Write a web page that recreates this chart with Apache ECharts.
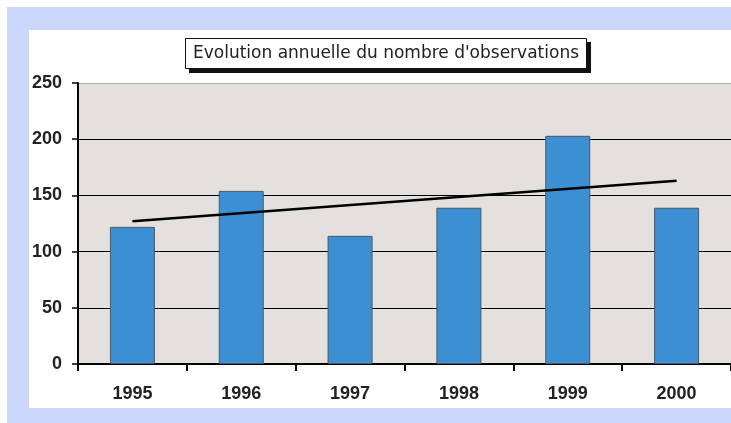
<!DOCTYPE html>
<html>
<head>
<meta charset="utf-8">
<script src="https://cdn.jsdelivr.net/npm/echarts@6/dist/echarts.min.js"></script>
<style>
  html, body { margin: 0; padding: 0; background: #fff; }
  #chart { width: 731px; height: 423px; }
</style>
</head>
<body>
<div id="chart"></div>
<script>
// data
var years = ['1995', '1996', '1997', '1998', '1999', '2000'];
var observations = [122, 154, 114, 139, 203, 139];
// trend line: only its two ends, joined straight
var trend = [127, '-', '-', '-', '-', 163];
var yTicks = [0, 50, 100, 150, 200, 250];

var chart = echarts.init(document.getElementById('chart'));

chart.setOption({
  backgroundColor: '#fff',
  animation: false,
  graphic: [
    { type: 'rect', z: -10, silent: true, shape: { x: 7, y: 7, width: 724, height: 416 }, style: { fill: '#cbd7fa' } },
    { type: 'rect', z: -9, silent: true, shape: { x: 29, y: 30, width: 702, height: 378 }, style: { fill: '#fff' } },
    // drop shadow of the title box
    { type: 'rect', z: 1, silent: true, shape: { x: 189, y: 42, width: 402, height: 31 }, style: { fill: '#111' } }
  ],
  title: {
    text: 'Evolution annuelle du nombre d\'observations',
    left: 185,
    top: 38,
    padding: [7, 8],
    backgroundColor: '#fff',
    borderColor: '#111',
    borderWidth: 1,
    textStyle: {
      fontFamily: 'DejaVu Sans',
      fontSize: 17,
      fontWeight: 'normal',
      color: '#222'
    }
  },
  grid: {
    left: 78,
    top: 83,
    bottom: 59,
    right: -5,
    show: true,
    backgroundColor: '#e4e0dd',
    borderWidth: 0
  },
  xAxis: {
    type: 'category',
    data: years,
    boundaryGap: true,
    axisLine: { lineStyle: { color: '#000', width: 2 } },
    axisTick: { show: true, length: 7, lineStyle: { color: '#000', width: 2 } },
    axisLabel: {
      margin: 21,
      color: '#222',
      fontFamily: 'Liberation Sans',
      fontWeight: 'bold',
      fontSize: 18
    }
  },
  yAxis: {
    type: 'value',
    min: yTicks[0],
    max: yTicks[yTicks.length - 1],
    interval: 50,
    axisLine: { show: true, lineStyle: { color: '#000', width: 2 } },
    axisTick: { show: true, length: 6, lineStyle: { color: '#000', width: 1.5 } },
    axisLabel: {
      margin: 16,
      color: '#222',
      fontFamily: 'Liberation Sans',
      fontWeight: 'bold',
      fontSize: 18
    },
    splitLine: {
      show: true,
      lineStyle: {
        color: ['#000', '#000', '#000', '#000', '#000', '#a3b2d2'],
        width: 1.2
      }
    }
  },
  series: [
    {
      name: 'observations',
      type: 'bar',
      data: observations,
      barWidth: 45,
      itemStyle: {
        color: '#3b8fd2',
        borderColor: '#4b5966',
        borderWidth: 1
      },
      z: 2
    },
    {
      name: 'tendance',
      type: 'line',
      data: trend,
      connectNulls: true,
      symbol: 'none',
      lineStyle: { color: '#000', width: 2.5 },
      z: 3
    }
  ]
});
</script>
</body>
</html>
